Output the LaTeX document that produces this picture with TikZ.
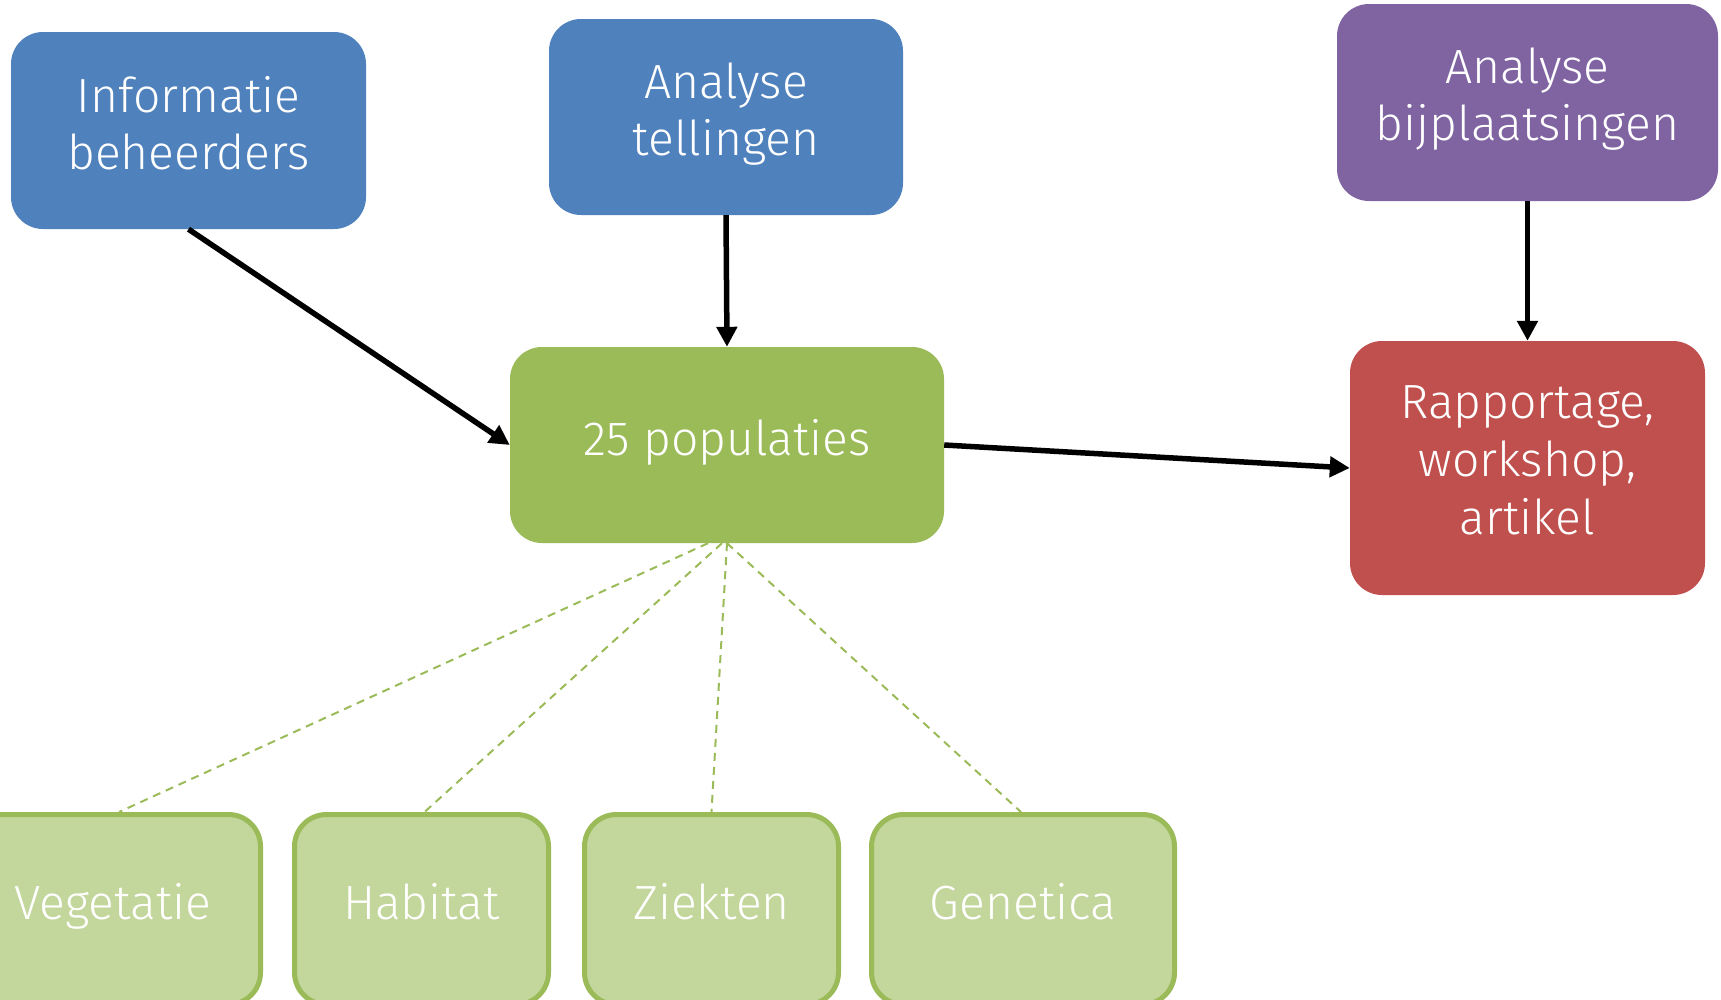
\documentclass[tikz,border=0pt]{standalone}
\usepackage{fontspec}
\setmainfont{Fira Sans}[UprightFont=* Light]
\usetikzlibrary{arrows.meta}

\definecolor{infoblue}{HTML}{4F81BD}
\definecolor{bijpurple}{HTML}{8064A2}
\definecolor{popgreen}{HTML}{9BBB59}
\definecolor{rappred}{HTML}{C0504D}
\definecolor{topicfill}{HTML}{C3D69B}

\begin{document}
\begin{tikzpicture}[x=1pt,y=-1pt,
  box/.style={rounded corners=32pt, inner sep=0pt, align=center, text=white,
    font=\fontsize{48}{57}\selectfont, text depth=16pt},
  oneline/.style={text height=36pt},
  topic/.style={box, oneline, fill=topicfill, draw=popgreen, line width=5pt},
  flow/.style={line width=5.5pt, -{Triangle[length=20pt,width=20pt]}},
  link/.style={popgreen, line width=2pt, dash pattern=on 8pt off 6pt}]

\useasboundingbox (0,0) rectangle (1721,999);

\node [box, fill=infoblue, minimum width=355pt, minimum height=197pt] (info) at (188.5,130.5) {Informatie\\beheerders};
\node [box, fill=infoblue, minimum width=354pt, minimum height=196pt] (tell) at (726,117) {Analyse\\tellingen};
\node [box, fill=bijpurple, minimum width=381pt, minimum height=197pt] (bijpl) at (1527.5,102.5) {Analyse\\bijplaatsingen};

\node [box, oneline, fill=popgreen, minimum width=434pt, minimum height=196pt] (pop) at (727,445) {25 populaties};
\node [box, fill=rappred, minimum width=355pt, minimum height=254pt, font=\fontsize{48}{58}\selectfont] (rapp) at (1527.5,468) {Rapportage,\\workshop,\\artikel};

\node [topic, minimum width=295pt, minimum height=190pt] (veg) at (113,909.5) {Vegetatie};
\node [topic, minimum width=254pt, minimum height=190pt] (hab) at (421.5,909.5) {Habitat};
\node [topic, minimum width=254pt, minimum height=190pt] (ziek) at (711.5,909.5) {Ziekten};
\node [topic, minimum width=303pt, minimum height=190pt] (gen) at (1023,909.5) {Genetica};

\draw [flow] (info.south) -- (pop.west);
\draw [flow] (tell.south) -- (pop.north);
\draw [flow] (bijpl.south) -- (rapp.north);
\draw [flow] (pop.east) -- (rapp.west);

\draw [link] ([xshift=-19pt]pop.south) -- ([xshift=6pt]veg.north);
\draw [link] ([xshift=-5pt]pop.south) -- ([xshift=3pt]hab.north);
\draw [link] (pop.south) -- (ziek.north);
\draw [link] (pop.south) -- ([xshift=-2pt]gen.north);

\end{tikzpicture}
\end{document}
